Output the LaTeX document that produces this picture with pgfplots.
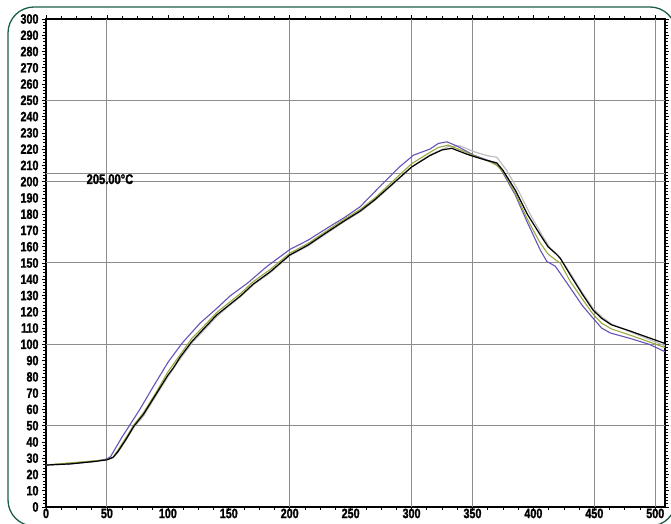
\documentclass[border=0pt]{standalone}
\usepackage{fontspec}
\setmainfont{Liberation Sans}[FakeStretch=0.8, BoldFeatures={FakeBold=1.5}]
\usepackage{pgfplots}
\usepackage{pgfplotstable}
\pgfplotsset{compat=1.18}
\definecolor{framegreen}{HTML}{1E5E4C}
\definecolor{cpurple}{HTML}{6A50B8}
\definecolor{cgreen}{HTML}{98A83C}
\definecolor{cgray}{HTML}{BDBDBD}
\definecolor{cgrid}{HTML}{8C8C8C}

\pgfplotstableread{
x y
0 25.8
20 26.5
40 28
50 29
55 30.5
59 34
66 42
72 49.5
80 57
90 69
100 81
104.5 85.5
110 92
120 102
130 110
140 118
150 124
160 130
170 137
184 144.6
200 154.9
215 161
230 168.6
245 176
258 182
270 189
285 199
300 209
315 216
325 219.5
333 220.5
345 217
351 215.5
362 213
370 211.5
375 207
385 195
395 180
405 168
412 160
418 156
422 153
430 143
440 131
449 121
456 116
464 112
480 108
495 104
508 100.5
}\blackdata

\pgfplotstableread{
x y
0 25.8
20 26.5
40 28
50 29.5
53 31
62 42.5
68 49.5
77 60
88 74
100.4 89.3
112 101
126.4 113
140 122
151 129.7
166 138
181 147.7
200.3 158.4
215 164
230.4 171.3
245 178
257.8 184.6
274 197
290 209
301.6 216.3
315 220
322 223.5
329 224.5
337 222
351 216.3
367 212
373 208
385 192
395 175
405.6 158
411 151
418 148
430 135
440 124
449 116
456 110
463 107
480 103.5
495 100
508 95.5
}\purpledata

\pgfplotstableread{
x y
0 25.8
50 29
55 30.5
59 35
66 43
72 50.5
80 58
90 70
100 83
110 93.5
120 104
130 111.5
140 119.5
150 125.5
160 131.5
170 138.5
184 146
200 156
215 162
230 169.6
245 177
258 183
270 190
285 200.5
300 211
315 218
322 221
330 222.5
345 218
351 216
362 213
370 210
376 205
385 193
395 177
405 163
412 155.5
418 152
422 150
430 139
440 128
449 118.5
456 113
464 109.5
480 105.5
495 101.5
508 98
}\greendata

\pgfplotstableread{
x y
0 25.8
50 29
55 30.5
59 33.5
66 41.5
72 49
80 56
90 68
100 80
110 91
120 101
130 109
140 117
150 123.5
160 129.5
170 136.5
184 144
200 154.5
215 160.5
230 168
245 175.5
258 181.5
270 188.5
285 198.5
300 209
315 216.5
330 221.5
340 222
351 218.5
362 216
370 215
378 207
388 194
398 179
408 166
414 159
420 155
430 144
440 132
449 122
456 117
464 112.5
480 107.5
495 103
508 99
}\graydata

\begin{document}
\begin{tikzpicture}
\useasboundingbox (0,0) rectangle (671bp,524bp);
\clip (0,0) rectangle (671bp,524bp);
\draw[framegreen, line width=1.3bp, rounded corners=26bp] (8bp,-2bp) rectangle (676bp,517bp);
\begin{axis}[
  at={(46bp,17bp)}, anchor=south west,
  scale only axis, width=619bp, height=488bp,
  xmin=0, xmax=508, ymin=0, ymax=300,
  xtick={0,50,...,500}, ytick={0,10,...,300},
  minor x tick num=3, minor y tick num=4,
  tick align=outside,
  major tick length=4bp, minor tick length=2.5bp,
  every tick/.style={black, line width=0.7bp},
  axis line style={line width=1.6bp, black},
  tick label style={font=\bfseries\fontsize{13.5}{14}\selectfont},
  /pgf/number format/assume math mode=true,
  /pgf/number format/1000 sep={},
  xticklabel style={yshift=3.5bp, inner sep=1bp},
  extra x ticks={50,200,300,350,450,500}, extra x tick labels={},
  extra y ticks={50,100,150,200,205,250}, extra y tick labels={},
  extra x tick style={grid=major, major tick length=0pt},
  extra y tick style={grid=major, major tick length=0pt},
  major grid style={cgrid, line width=1bp},
  clip=false,
]
\addplot[cgray, line width=1.2bp] table[x=x,y=y] {\graydata};
\addplot[cpurple, line width=1.1bp] table[x=x,y=y] {\purpledata};
\addplot[cgreen, line width=1.1bp] table[x=x,y=y] {\greendata};
\addplot[black, line width=1.2bp] table[x=x,y=y] {\blackdata};
\node[anchor=north, inner sep=0.5bp, font=\bfseries\fontsize{14}{14}\selectfont] at (axis cs:52.5,205) {205.00°C};
\end{axis}
\end{tikzpicture}
\end{document}
